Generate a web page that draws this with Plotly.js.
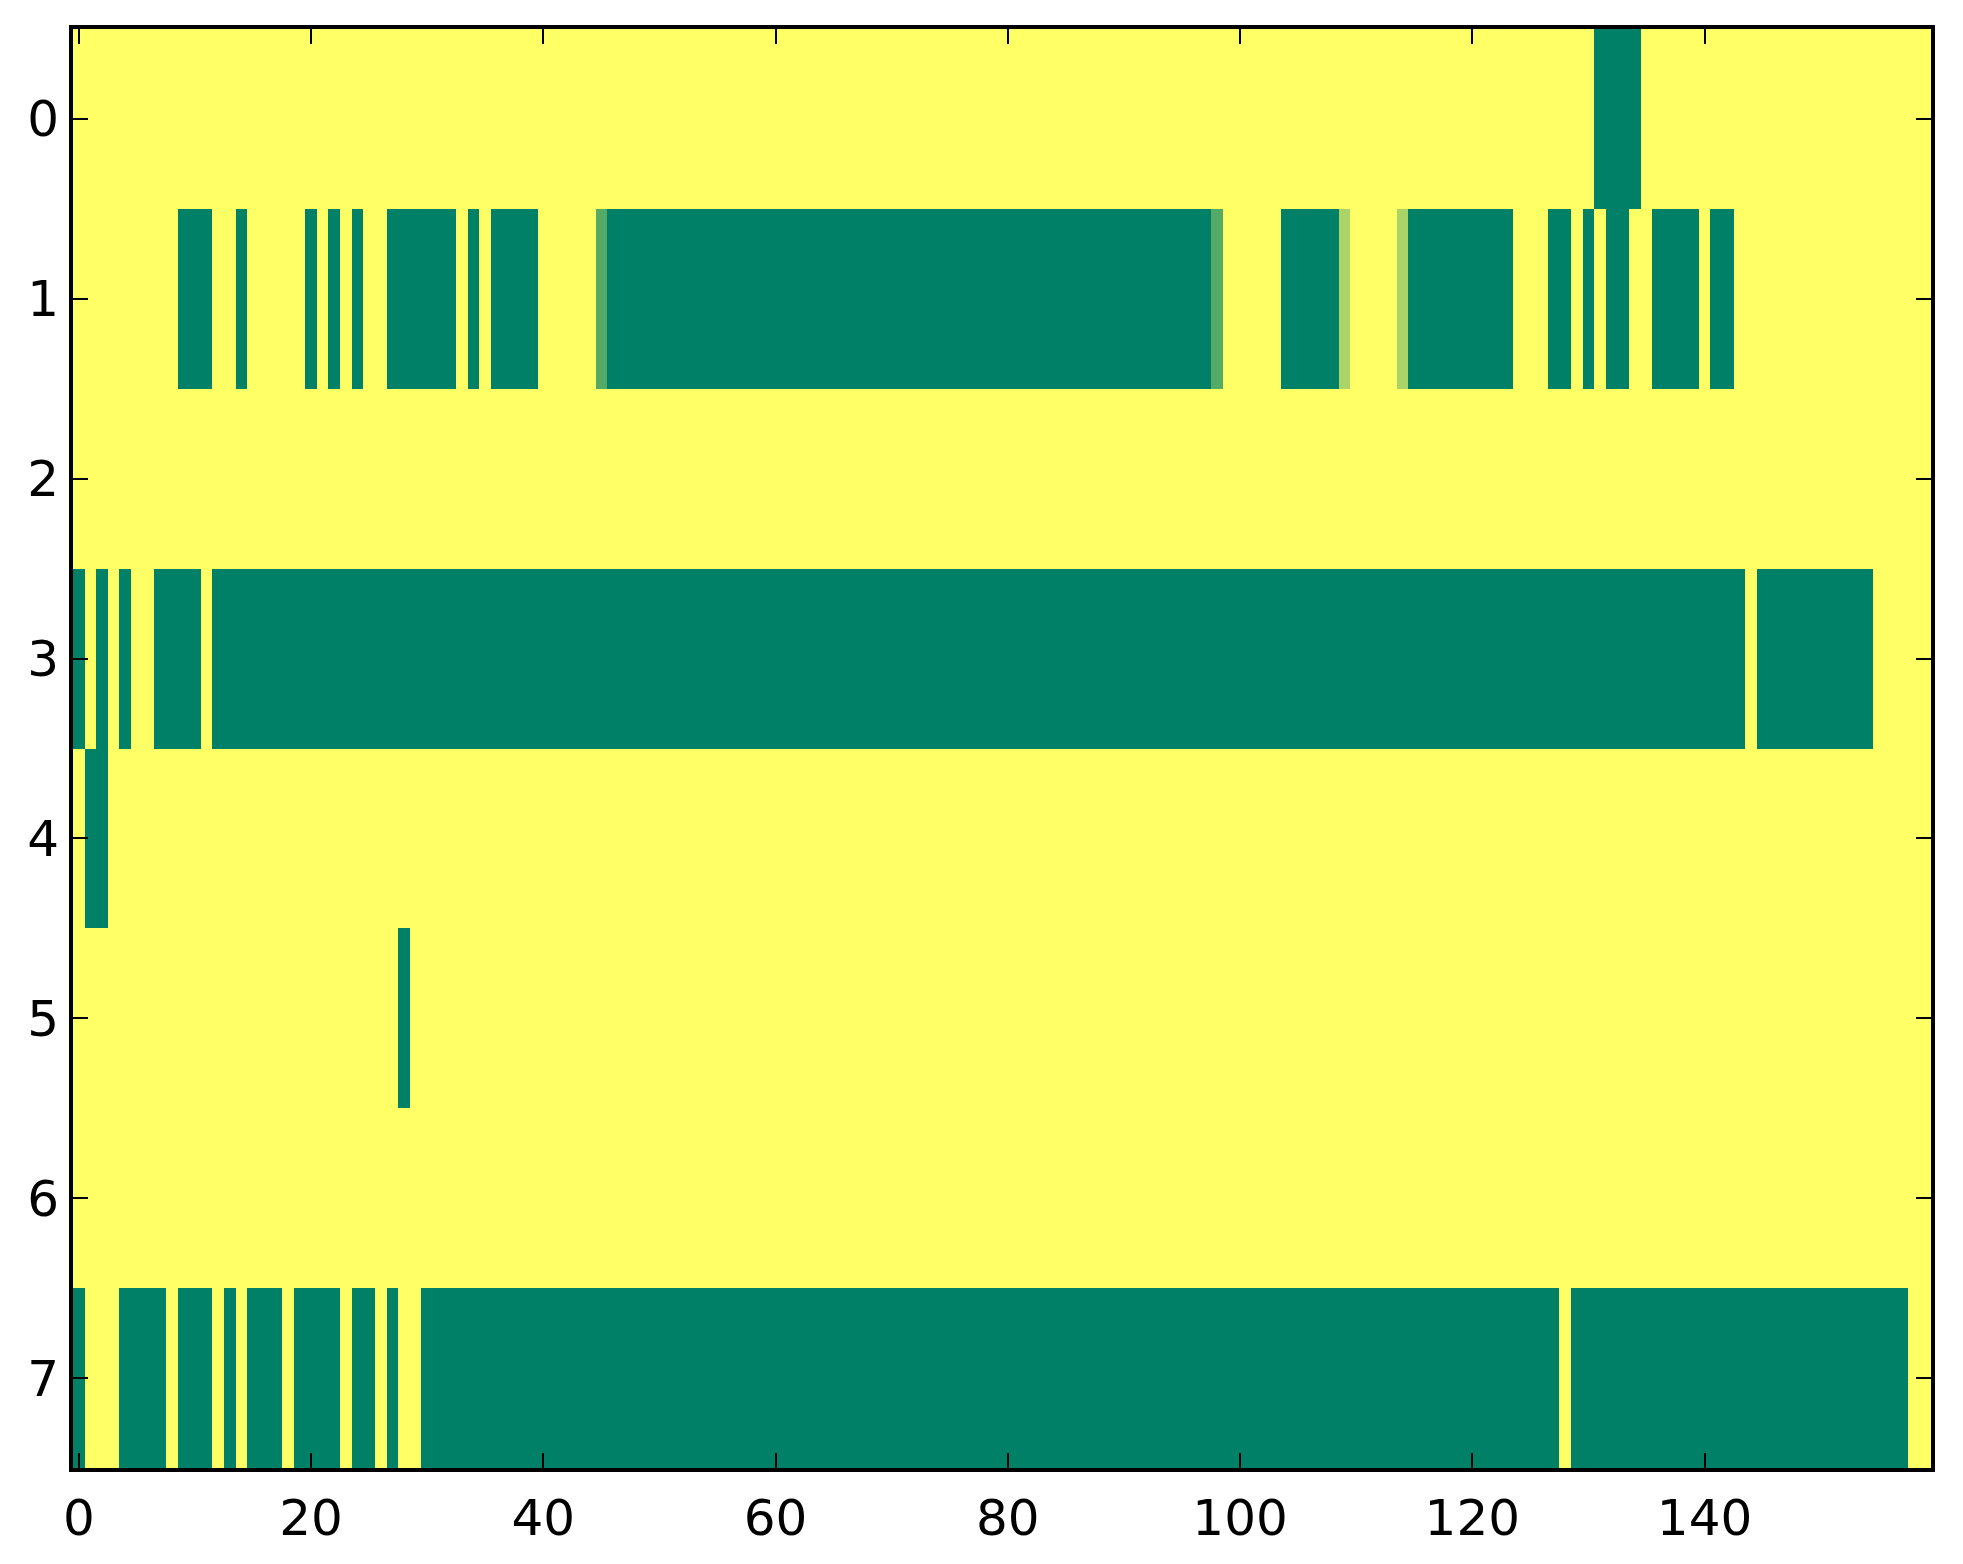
<!DOCTYPE html>
<html>
<head>
<meta charset="utf-8">
<script src="https://cdn.plot.ly/plotly-3.0.1.min.js"></script>
<style>html,body{margin:0;padding:0;background:#fff;}#chart{width:1963px;height:1564px;}</style>
</head>
<body>
<div id="chart"></div>
<script>
// Cell levels per row, 160 columns each: '0' = 0, '1' = 1/3, '2' = 2/3, '3' = 1
const row0 = "3333333333 3333333333 3333333333 3333333333 3333333333 3333333333 3333333333 3333333333 3333333333 3333333333 3333333333 3333333333 3333333333 3000033333 3333333333 3333333333";
const row1 = "3333333330 0033033333 0303033000 0003030000 3333310000 0000000000 0000000000 0000000000 0000000000 0000000013 3333000002 3333200000 0000333003 0300330000 3003333333 3333333333";
const row2 = "3333333333 3333333333 3333333333 3333333333 3333333333 3333333333 3333333333 3333333333 3333333333 3333333333 3333333333 3333333333 3333333333 3333333333 3333333333 3333333333";
const row3 = "0303033000 0300000000 0000000000 0000000000 0000000000 0000000000 0000000000 0000000000 0000000000 0000000000 0000000000 0000000000 0000000000 0000000000 0000300000 0000033333";
const row4 = "3003333333 3333333333 3333333333 3333333333 3333333333 3333333333 3333333333 3333333333 3333333333 3333333333 3333333333 3333333333 3333333333 3333333333 3333333333 3333333333";
const row5 = "3333333333 3333333333 3333333303 3333333333 3333333333 3333333333 3333333333 3333333333 3333333333 3333333333 3333333333 3333333333 3333333333 3333333333 3333333333 3333333333";
const row6 = "3333333333 3333333333 3333333333 3333333333 3333333333 3333333333 3333333333 3333333333 3333333333 3333333333 3333333333 3333333333 3333333333 3333333333 3333333333 3333333333";
const row7 = "0333000030 0030300030 0003003033 0000000000 0000000000 0000000000 0000000000 0000000000 0000000000 0000000000 0000000000 0000000000 0000000030 0000000000 0000000000 0000000033";

const rowLabels = [0, 1, 2, 3, 4, 5, 6, 7];
const xTicks = [0, 20, 40, 60, 80, 100, 120, 140];
const levelValues = {"0": 0, "1": 1/3, "2": 2/3, "3": 1};

const rows = [row0, row1, row2, row3, row4, row5, row6, row7];
const z = rows.map(r => r.replace(/\s+/g, "").split("").map(c => levelValues[c]));
const nCols = z[0].length;
const xs = Array.from({length: nCols}, (_, i) => i);

const axisFont = {family: "DejaVu Sans", size: 50, color: "#000"};

const trace = {
  type: "heatmap",
  z: z,
  x: xs,
  y: rowLabels,
  zmin: 0,
  zmax: 1,
  colorscale: [[0, "rgb(0,128,102)"], [1, "rgb(255,255,102)"]],
  showscale: false,
  hoverinfo: "skip"
};

const axisCommon = {
  showgrid: false,
  zeroline: false,
  showline: true,
  linecolor: "#000",
  linewidth: 4,
  mirror: "ticks",
  ticks: "inside",
  ticklen: 15,
  tickwidth: 2,
  tickcolor: "#000",
  tickfont: axisFont
};

const layout = {
  width: 1963,
  height: 1564,
  paper_bgcolor: "#fff",
  plot_bgcolor: "#fff",
  margin: {l: 73, r: 32, t: 29, b: 96},
  xaxis: Object.assign({}, axisCommon, {
    range: [-0.5, nCols - 0.5],
    tickmode: "array",
    tickvals: xTicks,
    ticktext: xTicks.map(String),
    ticklabelstandoff: 3
  }),
  yaxis: Object.assign({}, axisCommon, {
    range: [rowLabels.length - 0.5, -0.5],
    tickmode: "array",
    tickvals: rowLabels,
    ticktext: rowLabels.map(String),
    ticklabelstandoff: 0
  }),
  showlegend: false
};

Plotly.newPlot("chart", [trace], layout, {displayModeBar: false, staticPlot: true});
</script>
</body>
</html>
